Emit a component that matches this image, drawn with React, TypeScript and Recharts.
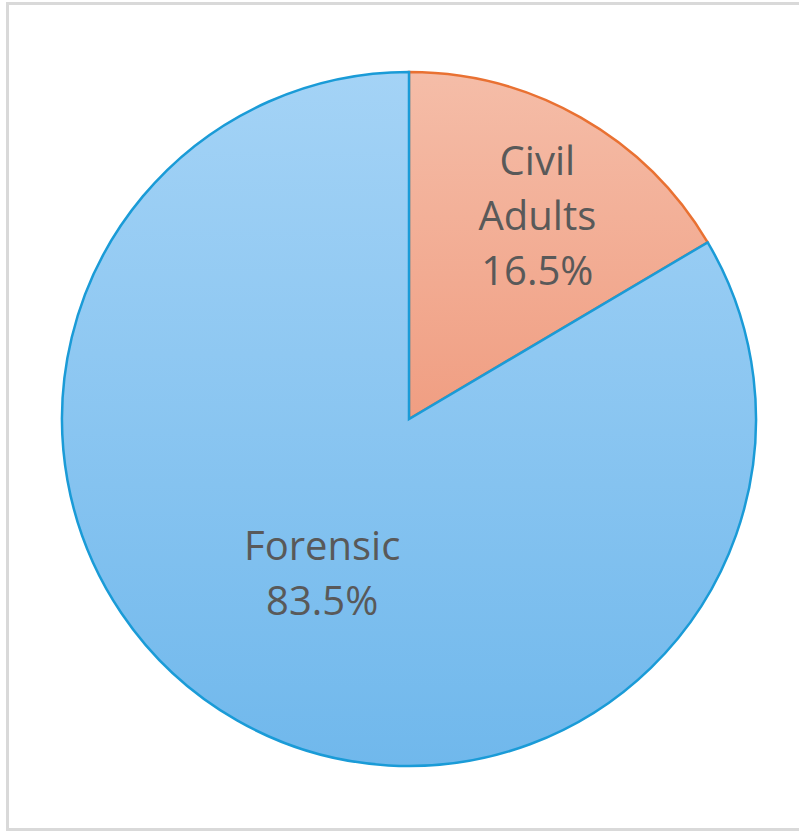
import { Cell, Pie, PieChart } from "recharts";

const categories = ["Civil Adults", "Forensic"];
const shares = [16.5, 83.5];
const labelLines = [["Civil", "Adults", "16.5%"], ["Forensic", "83.5%"]];

const data = categories.map((name, i) => ({ name, value: shares[i] }));

const fills = ["url(#gradOrange)", "url(#gradBlue)"];
const strokes = ["#E97132", "#1A9BD7"];
// how far out from the centre each label sits, as a share of the radius, plus a small nudge
const labelRadius = [0.7, 0.505];
const labelNudge = [[8, 6], [0, 0]];
const RAD = Math.PI / 180;

function SliceLabel(props: any) {
  const { cx, cy, midAngle, outerRadius, index } = props;
  const r = outerRadius * labelRadius[index];
  const x = cx + r * Math.cos(-midAngle * RAD) + labelNudge[index][0];
  const y = cy + r * Math.sin(-midAngle * RAD) + labelNudge[index][1];
  const lines = labelLines[index];
  const lh = 55;
  const top = y - ((lines.length - 1) * lh) / 2;
  return (
    <text x={x} y={top} fill="#595959" fontSize={40} fontFamily="Open Sans, sans-serif" textAnchor="middle" dominantBaseline="central">
      {lines.map((t, i) => (
        <tspan key={t} x={x} y={top + i * lh}>
          {t}
        </tspan>
      ))}
    </text>
  );
}

export default function App() {
  return (
    <div style={{ position: "absolute", left: 0, top: 0, width: 799, height: 832, background: "#fff", overflow: "hidden" }}>
      <div style={{ position: "absolute", left: 6, top: 2, width: 810, height: 829, boxSizing: "border-box", border: "3px solid #d9d9d9" }} />
      <div style={{ position: "absolute", left: 0, top: 0 }}>
        <PieChart width={799} height={832} margin={{ top: 0, right: 0, bottom: 0, left: 0 }}>
          <defs>
            <linearGradient id="gradBlue" x1="0" y1="0" x2="0" y2="1">
              <stop offset="0%" stopColor="#A4D3F6" />
              <stop offset="100%" stopColor="#70B8EC" />
            </linearGradient>
            <linearGradient id="gradOrange" x1="0" y1="0" x2="0" y2="1">
              <stop offset="0%" stopColor="#F5BDA8" />
              <stop offset="100%" stopColor="#F09E82" />
            </linearGradient>
          </defs>
          <Pie
            data={data}
            dataKey="value"
            nameKey="name"
            cx={409}
            cy={419}
            outerRadius={347}
            startAngle={90}
            endAngle={-270}
            label={SliceLabel}
            labelLine={false}
            isAnimationActive={false}
          >
            {data.map((d, i) => (
              <Cell key={d.name} fill={fills[i]} stroke={strokes[i]} strokeWidth={2.5} />
            ))}
          </Pie>
        </PieChart>
      </div>
    </div>
  );
}
